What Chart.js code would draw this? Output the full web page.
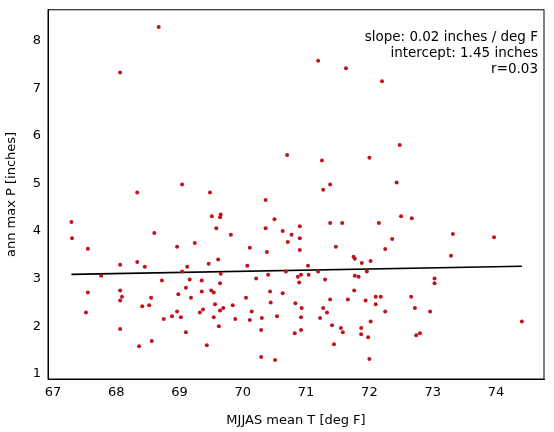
<!DOCTYPE html>
<html><head><meta charset="utf-8">
<script src="https://cdn.jsdelivr.net/npm/chart.js@4"></script>
<style>html,body{margin:0;padding:0;background:#fff}#w{width:554px;height:432px}</style>
</head><body><div id="w"><canvas id="c"></canvas></div>
<script>
const tempF = [70.70,67.29,67.30,67.55,68.33,69.04,69.48,70.36,69.51,69.64,69.65,70.50,69.58,70.36,70.63,70.77,68.60,69.81,70.71,68.96,69.24,70.11,70.38,68.06,68.33,68.45,69.12,69.46,69.61,70.07,67.76,69.04,69.65,70.40,70.68,70.21,68.72,69.16,69.35,67.55,68.06,68.09,68.06,69.10,68.98,69.18,69.35,69.50,69.54,69.64,70.43,70.63,68.55,68.41,68.52,67.52,68.75,68.88,68.96,69.02,69.32,69.37,69.56,69.54,69.64,69.69,69.84,69.88,70.05,70.14,70.11,70.30,70.44,70.54,68.06,69.10,69.62,70.29,68.36,68.56,69.43,70.29,70.51,
71.25,72.00,71.27,71.38,72.43,70.90,70.90,70.90,71.38,71.57,72.15,72.50,72.67,73.32,73.97,72.36,72.25,71.47,71.75,71.77,71.88,72.02,73.29,71.03,70.87,70.92,70.89,71.04,71.19,71.30,71.77,71.83,71.96,73.03,73.03,71.76,70.83,70.93,70.92,71.38,71.27,71.33,71.22,71.66,71.94,72.10,72.18,72.10,72.25,72.66,72.72,72.96,74.41,72.02,70.92,70.82,71.41,71.55,71.58,71.87,71.87,71.98,72.74,72.80,71.44,72.00,
68.67,68.06,71.19,71.63,72.20,72.48];
const maxPrecip = [5.60,4.19,3.85,3.63,4.81,4.98,4.81,4.65,4.31,4.29,4.35,4.25,4.06,4.06,4.00,3.92,3.96,3.92,3.77,3.67,3.75,3.65,3.56,3.29,3.35,3.25,3.25,3.31,3.40,3.27,3.06,3.15,3.10,3.08,3.15,3.00,2.96,2.98,2.96,2.71,2.75,2.62,2.54,2.81,2.67,2.60,2.73,2.75,2.71,2.90,2.73,2.69,2.60,2.42,2.44,2.29,2.15,2.21,2.31,2.19,2.29,2.35,2.46,2.19,2.33,2.38,2.44,2.15,2.60,2.31,2.13,2.17,2.50,2.21,1.94,1.87,2.00,1.92,1.58,1.69,1.60,1.35,1.29,
5.48,5.54,4.87,4.98,5.02,4.10,3.85,3.60,4.17,4.17,4.17,4.31,4.27,3.94,3.87,3.83,3.62,3.67,3.46,3.42,3.33,3.37,3.48,3.27,3.04,3.08,2.92,3.08,3.15,2.98,3.06,3.04,3.15,3.00,2.90,2.75,2.48,2.38,2.19,2.56,2.38,2.29,2.17,2.56,2.54,2.62,2.62,2.46,2.31,2.62,2.38,2.31,2.10,2.10,1.92,1.85,2.02,1.96,1.87,1.96,1.83,1.77,1.81,1.85,1.62,1.31,
8.29,7.33,7.58,7.42,7.15,5.81];
const fitX = [67.29, 74.41];
const fitY = [3.09, 3.26];
const xTicks = [67,68,69,70,71,72,73,74];
const yTicks = [1,2,3,4,5,6,7,8];
const annot = ['slope: 0.02 inches / deg F','intercept: 1.45 inches','r=0.03'];

const F = 'DejaVu Sans';
const frame = {id:'frame', afterDraw(ch){const a=ch.chartArea,x=ch.ctx;x.save();x.strokeStyle='#000';x.lineWidth=1;x.strokeRect(a.left,a.top,a.right-a.left,a.bottom-a.top);
 x.font='13.5px "'+F+'"';x.fillStyle='#000';x.textAlign='right';x.textBaseline='middle';
 annot.forEach((t,i)=>x.fillText(t,a.right-6,a.top+28+i*16));x.restore();}};
new Chart(document.getElementById('c'),{
 data:{datasets:[
  {type:'scatter',data:tempF.map((v,i)=>({x:v,y:maxPrecip[i]})),backgroundColor:'#c0141c',borderColor:'#c0141c',pointRadius:2,borderWidth:0},
  {type:'line',data:fitX.map((v,i)=>({x:v,y:fitY[i]})),borderColor:'#000',borderWidth:1.6,pointRadius:0}
 ]},
 options:{responsive:true,maintainAspectRatio:false,animation:false,
  layout:{padding:{top:9,right:10,left:0,bottom:0}},
  plugins:{legend:{display:false},tooltip:{enabled:false}},
  scales:{
   x:{type:'linear',min:66.92,max:74.76,afterBuildTicks:s=>{s.ticks=xTicks.map(v=>({value:v}))},
      afterFit:s=>{s.height=53},
      grid:{display:false,drawTicks:true,tickLength:5,tickColor:'#000'},border:{color:'#000'},
      ticks:{color:'#000',font:{family:F,size:13},padding:1,maxRotation:0,callback:v=>v},
      title:{display:true,text:'MJJAS mean T [deg F]',color:'#000',font:{family:F,size:13},padding:{top:0}}},
   y:{min:0.89,max:8.65,afterBuildTicks:s=>{s.ticks=yTicks.map(v=>({value:v}))},
      afterFit:s=>{s.width=48},
      grid:{display:false,drawTicks:true,tickLength:5,tickColor:'#000'},border:{color:'#000'},
      ticks:{color:'#000',font:{family:F,size:13},padding:2,callback:v=>v},
      title:{display:true,text:'ann max P [inches]',color:'#000',font:{family:F,size:13},padding:{bottom:2}}}
  }},
 plugins:[frame]});
</script></body></html>
